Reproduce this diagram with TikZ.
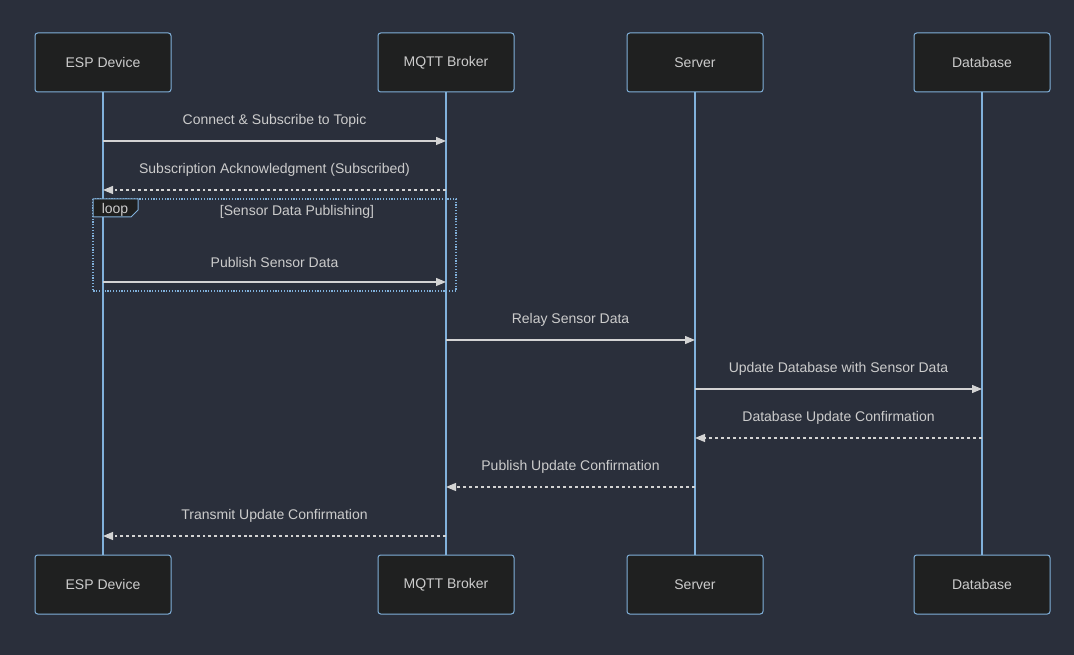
\documentclass[tikz,border=0pt]{standalone}
\usepackage{fontspec}
\setmainfont{Liberation Sans}
\usetikzlibrary{arrows.meta,positioning,calc}
\definecolor{bg}{HTML}{2A2F3B}
\definecolor{actorfill}{HTML}{1F2020}
\definecolor{lifeblue}{HTML}{81B1DB}
\definecolor{msgline}{HTML}{D3D3D3}
\definecolor{txt}{HTML}{CCCCCC}

\tikzset{
  actor/.style={draw=lifeblue,fill=actorfill,rounded corners=2pt,line width=0.75pt,
    minimum width=102pt,minimum height=44.25pt,text=txt,font=\fontsize{10.5}{12}\selectfont},
  lifeline/.style={lifeblue,line width=1.1pt},
  msg/.style={msgline,line width=0.9pt,-{Triangle[length=7.5pt,width=6pt]}},
  reply/.style={msg,dash pattern=on 2.2pt off 2.2pt},
  lbl/.style={midway,yshift=15pt,text=txt,font=\fontsize{10.5}{12}\selectfont}
}

\begin{document}
\begin{tikzpicture}[x=0.75pt,y=-0.75pt]
  % Background
  \fill[bg] (0,0) rectangle (1074,655);
  \useasboundingbox (0,0) rectangle (1074,655);

  % Lifelines (behind actors)
  \foreach \lx in {103,446,695,982}
    \draw[lifeline] (\lx,92) -- (\lx,555);

  % Actors, top
  \node[actor] (esptop) at (103,62.5) {ESP Device};
  \node[actor] (brokertop) at (446,62.5) {MQTT Broker};
  \node[actor] (servertop) at (695,62.5) {Server};
  \node[actor] (dbtop) at (982,62.5) {Database};

  % Actors, bottom
  \node[actor] (espbot) at (103,584.5) {ESP Device};
  \node[actor] (brokerbot) at (446,584.5) {MQTT Broker};
  \node[actor] (serverbot) at (695,584.5) {Server};
  \node[actor] (dbbot) at (982,584.5) {Database};

  % Message rows
  \coordinate (m1) at (0,141);
  \coordinate (m2) at (0,190);
  \coordinate (m3) at (0,282);
  \coordinate (m4) at (0,340);
  \coordinate (m5) at (0,389);
  \coordinate (m6) at (0,438);
  \coordinate (m7) at (0,487);
  \coordinate (m8) at (0,536);

  % Loop frame
  \draw[lifeblue,line width=0.9pt,dash pattern=on 0.9pt off 1.2pt] (93,199) rectangle (456,291);
  \draw[lifeblue,line width=0.75pt,fill=actorfill] (93,199) -- (138,199) -- (138,210) -- (131,217) -- (93,217) -- cycle;
  \node[text=txt,font=\fontsize{10.5}{12}\selectfont] (looptag) at (115,209.5) {loop};
  \node[text=txt,font=\fontsize{10.5}{12}\selectfont] (loopcond) at (297,212) {[Sensor Data Publishing]};

  % Messages
  \draw[msg] (esptop |- m1) -- node[lbl] {Connect \& Subscribe to Topic} (brokertop |- m1);
  \draw[reply] (brokertop |- m2) -- node[lbl] {Subscription Acknowledgment (Subscribed)} (esptop |- m2);
  \draw[msg] (esptop |- m3) -- node[lbl] {Publish Sensor Data} (brokertop |- m3);
  \draw[msg] (brokertop |- m4) -- node[lbl] {Relay Sensor Data} (servertop |- m4);
  \draw[msg] (servertop |- m5) -- node[lbl] {Update Database with Sensor Data} (dbtop |- m5);
  \draw[reply] (dbtop |- m6) -- node[lbl] {Database Update Confirmation} (servertop |- m6);
  \draw[reply] (servertop |- m7) -- node[lbl] {Publish Update Confirmation} (brokertop |- m7);
  \draw[reply] (brokertop |- m8) -- node[lbl] {Transmit Update Confirmation} (esptop |- m8);
\end{tikzpicture}
\end{document}
